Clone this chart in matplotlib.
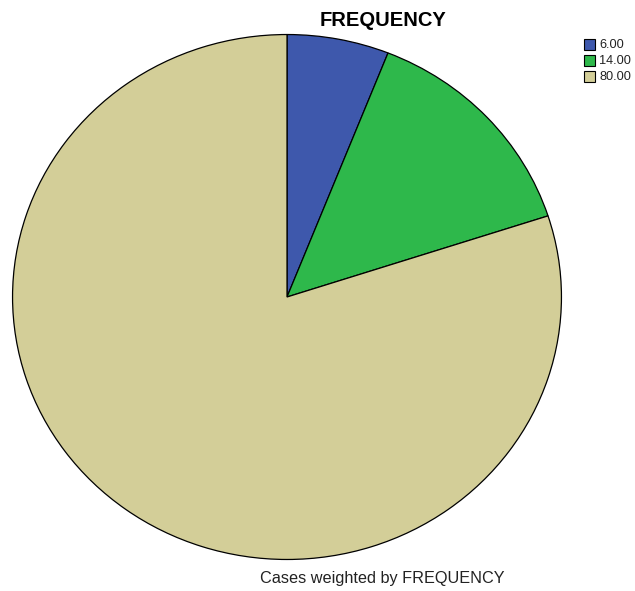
import matplotlib
matplotlib.use("Agg")
import matplotlib.pyplot as plt
from matplotlib.patches import Rectangle

labels = ["6.00", "14.00", "80.00"]
values = [6, 14, 80]
colors = ["#3e58ac", "#2eb84b", "#d3ce98"]

plt.rcParams["font.family"] = ["Liberation Sans", "DejaVu Sans"]

W, H = 635, 591
fig = plt.figure(figsize=(W / 100, H / 100), dpi=100)
fig.patch.set_facecolor("white")

# pie area in pixels: x 12..562, y 34..560
ax = fig.add_axes([12 / W, (H - 560) / H, 550 / W, 526 / H])
ax.pie(values, colors=colors, startangle=90, counterclock=False,
       wedgeprops=dict(edgecolor="black", linewidth=0.9))
ax.set_aspect("auto")
ax.set_xlim(-1.002, 1.002)
ax.set_ylim(-1.002, 1.002)
ax.axis("off")

# overlay in pixel coords for title, legend, footer
ov = fig.add_axes([0, 0, 1, 1], zorder=5)
ov.set_xlim(0, W)
ov.set_ylim(H, 0)
ov.axis("off")

ov.text(383, 20.5, "FREQUENCY", ha="center", va="center",
        fontsize=14.5, fontweight="bold")
ov.text(382, 579, "Cases weighted by FREQUENCY", ha="center",
        va="center", fontsize=11.7, color="#222222")

row_y = [44, 60, 76]
for lab, c, y in zip(labels, colors, row_y):
    ov.add_patch(Rectangle((584, y - 5.5), 11, 11, facecolor=c,
                           edgecolor="black", linewidth=0.8))
    ov.text(599, y + 0.5, lab, ha="left", va="center", fontsize=9.2,
            color="#222222")

fig.savefig("out.png", dpi=100)
